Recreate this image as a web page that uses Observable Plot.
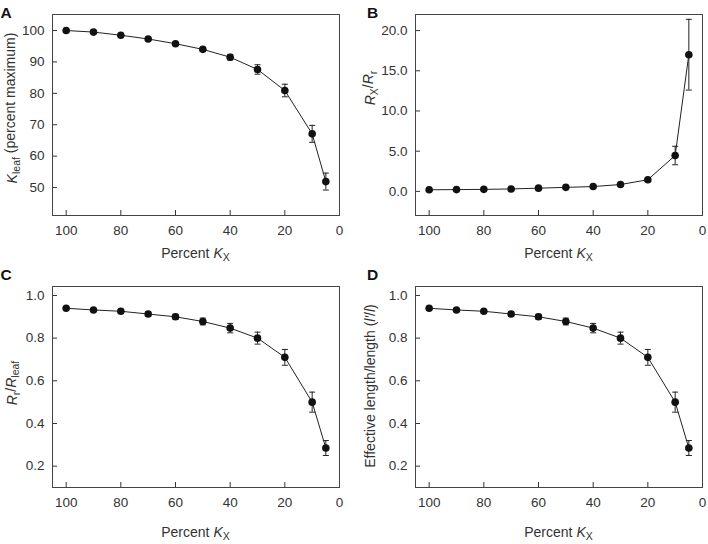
<!DOCTYPE html>
<html>
<head>
<meta charset="utf-8">
<script src="https://cdn.jsdelivr.net/npm/d3@7"></script>
<script src="https://cdn.jsdelivr.net/npm/@observablehq/plot@0.6"></script>
<style>
  body { margin: 0; background: #fff; }
  #wrap { position: relative; width: 708px; height: 544px; background: #fff; }
  .panel { position: absolute; width: 354px; height: 272px; }
  .panel svg { overflow: visible; }
</style>
</head>
<body>
<div id="wrap"></div>
<script>
// ---- data ----
const percentKx = [100, 90, 80, 70, 60, 50, 40, 30, 20, 10, 5];

const kleaf    = [100, 99.5, 98.5, 97.3, 95.8, 94.0, 91.5, 87.6, 80.9, 67.1, 51.9];
const kleafErr = [0.3, 0.3, 0.4, 0.4, 0.5, 0.6, 0.9, 1.5, 2.0, 2.7, 2.7];

const rxRr    = [0.2, 0.22, 0.25, 0.3, 0.4, 0.5, 0.6, 0.85, 1.45, 4.46, 17.0];
const rxRrErr = [0.05, 0.05, 0.05, 0.05, 0.05, 0.05, 0.08, 0.12, 0.25, 1.15, 4.4];

const rrRleaf    = [0.94, 0.932, 0.926, 0.913, 0.90, 0.878, 0.847, 0.80, 0.71, 0.50, 0.285];
const rrRleafErr = [0.005, 0.006, 0.008, 0.01, 0.012, 0.016, 0.022, 0.028, 0.037, 0.047, 0.035];

const effLen    = [0.94, 0.932, 0.926, 0.913, 0.90, 0.878, 0.847, 0.80, 0.71, 0.50, 0.285];
const effLenErr = [0.005, 0.006, 0.008, 0.01, 0.012, 0.016, 0.022, 0.028, 0.037, 0.047, 0.035];

const xTicks = [100, 80, 60, 40, 20, 0];
const yTicksA = [50, 60, 70, 80, 90, 100];
const yTicksB = [0, 5, 10, 15, 20];
const yTicksC = [0.2, 0.4, 0.6, 0.8, 1.0];

// ---- helpers ----
const FONT = "'Liberation Sans', Arial, Helvetica, sans-serif";
const capSymbol = { draw(ctx) { ctx.moveTo(-3, 0); ctx.lineTo(3, 0); } };

function table(vals, errs) {
  return percentKx.map((x, i) => ({ x, y: vals[i], lo: vals[i] - errs[i], hi: vals[i] + errs[i] }));
}

function panel({ left, top, vals, errs, yDomain, yTicks, yFormat, marginLeft, marginRight, letter, letterPos, yLabel, yLabelPos, xLabelPos }) {
  const data = table(vals, errs);
  const svg = Plot.plot({
    width: 354,
    height: 272,
    marginLeft, marginRight, marginTop: 14, marginBottom: 57,
    style: { fontFamily: FONT, fontSize: "13.5px", color: "#333", background: "transparent", overflow: "visible" },
    x: { domain: [105, 0], ticks: xTicks, tickSize: -5, tickPadding: 15, label: null, tickFormat: d => String(d) },
    y: { domain: yDomain, ticks: yTicks, tickSize: -5, tickPadding: 13, label: null, tickFormat: yFormat },
    marks: [
      Plot.frame({ stroke: "#444", strokeWidth: 1 }),
      Plot.ruleX(data, { x: "x", y1: "lo", y2: "hi", stroke: "#222", strokeWidth: 1 }),
      Plot.dot(data, { x: "x", y: "hi", symbol: capSymbol, stroke: "#222", fill: "none", strokeWidth: 1 }),
      Plot.dot(data, { x: "x", y: "lo", symbol: capSymbol, stroke: "#222", fill: "none", strokeWidth: 1 }),
      Plot.line(data, { x: "x", y: "y", stroke: "#222", strokeWidth: 1 }),
      Plot.dot(data, { x: "x", y: "y", r: 3.8, fill: "#111", stroke: "none" })
    ]
  });
  const s = d3.select(svg);
  // panel letter
  s.append("text").attr("x", letterPos[0]).attr("y", letterPos[1])
    .attr("font-family", FONT).attr("font-weight", "bold").attr("font-size", 15.5).attr("fill", "#111")
    .text(letter);
  // x label
  const xl = s.append("text").attr("x", xLabelPos[0]).attr("y", xLabelPos[1])
    .attr("text-anchor", "middle").attr("font-family", FONT).attr("font-size", 14).attr("fill", "#333");
  xl.append("tspan").text("Percent ");
  xl.append("tspan").attr("font-style", "italic").text("K");
  xl.append("tspan").attr("font-size", 10.5).attr("dy", "0.3em").text("X");
  // y label
  const yl = s.append("text")
    .attr("transform", `translate(${yLabelPos[0]},${yLabelPos[1]}) rotate(-90)`)
    .attr("text-anchor", "middle").attr("font-family", FONT).attr("font-size", 14).attr("fill", "#333");
  yLabel(yl);

  const div = document.createElement("div");
  div.className = "panel";
  div.style.left = left + "px";
  div.style.top = top + "px";
  div.appendChild(svg);
  document.getElementById("wrap").appendChild(div);
}

function sub(t, txt) {
  t.append("tspan").attr("font-size", 10.5).attr("dy", "0.3em").text(txt);
}
function unsub(t, txt, italic) {
  const ts = t.append("tspan").attr("dy", "-0.3em").text(txt);
  if (italic) ts.attr("font-style", "italic");
}

const f1 = d3.format(".1f");

panel({
  left: 0, top: 0, vals: kleaf, errs: kleafErr, yDomain: [41.1, 105.1], yTicks: yTicksA, yFormat: d => String(d),
  marginLeft: 52, marginRight: 15, letter: "A", letterPos: [6, 17.5],
  yLabel: t => { t.append("tspan").attr("font-style", "italic").text("K"); sub(t, "leaf"); unsub(t, " (percent maximum)"); },
  yLabelPos: [16.5, 108], xLabelPos: [195.5, 258]
});
panel({
  left: 354, top: 0, vals: rxRr, errs: rxRrErr, yDomain: [-3, 22], yTicks: yTicksB, yFormat: f1,
  marginLeft: 61, marginRight: 6, letter: "B", letterPos: [18.5, 17.5],
  yLabel: t => { t.append("tspan").attr("font-style", "italic").text("R"); sub(t, "X"); unsub(t, "/"); t.append("tspan").attr("font-style", "italic").text("R"); sub(t, "r"); },
  yLabelPos: [20.5, 88], xLabelPos: [204.5, 258]
});
panel({
  left: 0, top: 272, vals: rrRleaf, errs: rrRleafErr, yDomain: [0.1, 1.042], yTicks: yTicksC, yFormat: f1,
  marginLeft: 52, marginRight: 15, letter: "C", letterPos: [6, 8],
  yLabel: t => { t.append("tspan").attr("font-style", "italic").text("R"); sub(t, "r"); unsub(t, "/"); t.append("tspan").attr("font-style", "italic").text("R"); sub(t, "leaf"); },
  yLabelPos: [16.7, 111], xLabelPos: [195.5, 265]
});
panel({
  left: 354, top: 272, vals: effLen, errs: effLenErr, yDomain: [0.1, 1.042], yTicks: yTicksC, yFormat: f1,
  marginLeft: 61, marginRight: 6, letter: "D", letterPos: [18.5, 8],
  yLabel: t => { t.append("tspan").text("Effective length/length ("); t.append("tspan").attr("font-style", "italic").text("l′"); t.append("tspan").text("/"); t.append("tspan").attr("font-style", "italic").text("l"); t.append("tspan").text(")"); },
  yLabelPos: [20.5, 114], xLabelPos: [204.5, 265]
});
</script>
</body>
</html>
